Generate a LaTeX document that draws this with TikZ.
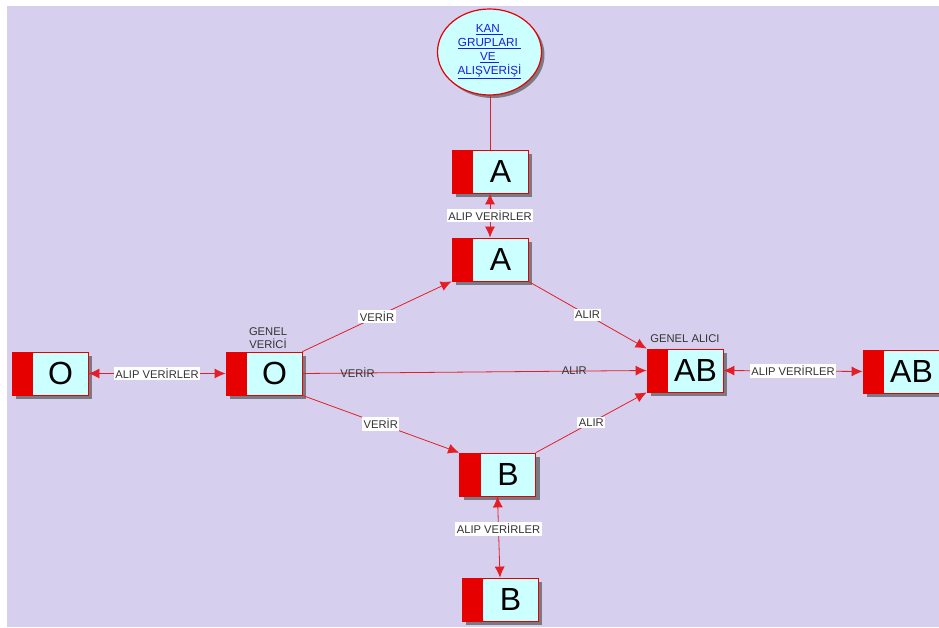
\documentclass[tikz,border=0pt]{standalone}
\usepackage{fontspec}
\setmainfont{Liberation Sans}
\usetikzlibrary{arrows.meta,shadows,shapes.geometric}
\definecolor{bglav}{HTML}{D6D0EE}
\definecolor{boxred}{HTML}{E60000}
\definecolor{linkred}{HTML}{E41E26}
\definecolor{cyanfill}{HTML}{CCFFFF}
\definecolor{shadowgray}{HTML}{7A7A84}
\definecolor{textgray}{HTML}{333333}
\definecolor{linkblue}{HTML}{1C1CE0}
\newcommand\bloodtxt[1]{\makebox[76pt]{\hspace{21pt}\hfill#1\hfill}}
\begin{document}
\begin{tikzpicture}[x={(1pt,0pt)}, y={(0pt,-1pt)},
  bloodbox/.style={draw=boxred, line width=0.8pt, fill=cyanfill,
    minimum width=76pt, minimum height=43pt, inner sep=0pt,
    font=\fontsize{32}{32}\selectfont,
    drop shadow={shadow xshift=4pt, shadow yshift=-4pt, fill=shadowgray, opacity=1},
    path picture={\fill[boxred] (path picture bounding box.north west)
      rectangle ([xshift=21pt]path picture bounding box.south west);}},
  link/.style={draw=linkred, line width=0.8pt},
  tip/.style={-{Latex[length=11pt,width=10pt]}},
  both/.style={{Latex[length=11pt,width=10pt]}-{Latex[length=11pt,width=10pt]}},
  tag/.style={fill=white, inner xsep=1.5pt, inner ysep=2pt, text=textgray,
    font=\fontsize{11.2}{11.2}\selectfont},
  plain/.style={inner sep=1pt, text=textgray, font=\fontsize{11.2}{11.2}\selectfont},
  caption/.style={align=center, text=textgray, font=\fontsize{11.2}{13.5}\selectfont}]

% page and background
\useasboundingbox (0,0) rectangle (939,628);
\fill[white] (0,0) rectangle (939,628);
\fill[bglav] (7,6) rectangle (939,627);

% title ellipse
\node[ellipse, draw=boxred, line width=1.2pt, fill=cyanfill,
  minimum width=104pt, minimum height=86pt, inner sep=0pt,
  drop shadow={shadow xshift=3pt, shadow yshift=-3pt, fill=shadowgray, opacity=1},
  align=center, text=linkblue, font=\fontsize{11.7}{14}\selectfont]
  (kan) at (489.5,52)
  {\underline{KAN\ }\\ \underline{GRUPLARI\ }\\ \underline{VE\ }\\ \underline{ALIŞVERİŞİ}};

% blood group boxes
\node[bloodbox] (atop)    at (490,171.5) {\bloodtxt{A}};
\node[bloodbox] (amid)    at (490,259.5) {\bloodtxt{A}};
\node[bloodbox] (oleft)   at (50,373.5)  {\bloodtxt{O}};
\node[bloodbox] (ocen)    at (264,373.5) {\bloodtxt{O}};
\node[bloodbox] (abcen)   at (685,370.5) {\bloodtxt{AB}};
\node[bloodbox] (abright) at (901,371.5) {\bloodtxt{AB}};
\node[bloodbox] (bmid)    at (497.5,474.5) {\bloodtxt{B}};
\node[bloodbox] (bbot)    at (500,599.5) {\bloodtxt{B}};

% captions
\node[caption] (verici) at (268,338) {GENEL\\VERİCİ};
\node[caption] (alici)  at (685,339) {GENEL ALICI};

% connectors
\draw[link] (atop.north |- kan.south) -- (atop.north);
\draw[link, both] (atop.south) -- node[tag] {ALIP VERİRLER} (amid.north);
\draw[link, both] (oleft.east) -- node[tag] {ALIP VERİRLER} (ocen.west);
\draw[link, both] (abcen.east) -- node[tag] {ALIP VERİRLER} (abright.west);
\draw[link, both] (bmid.south) -- node[tag, pos=0.4] {ALIP VERİRLER} (bbot.north);
\draw[link, tip] (ocen.north east) -- node[tag] {VERİR} (amid.south west);
\draw[link, tip] (amid.south east) -- node[tag] {ALIR} (abcen.north west);
\draw[link, tip] (ocen.east) -- node[plain, pos=0.16] {VERİR}
  node[plain, pos=0.79] {ALIR} (abcen.west);
\draw[link, tip] (ocen.south east) -- node[tag] {VERİR} (bmid.north west);
\draw[link, tip] (bmid.north east) -- node[tag] {ALIR} (abcen.south west);
\end{tikzpicture}
\end{document}
